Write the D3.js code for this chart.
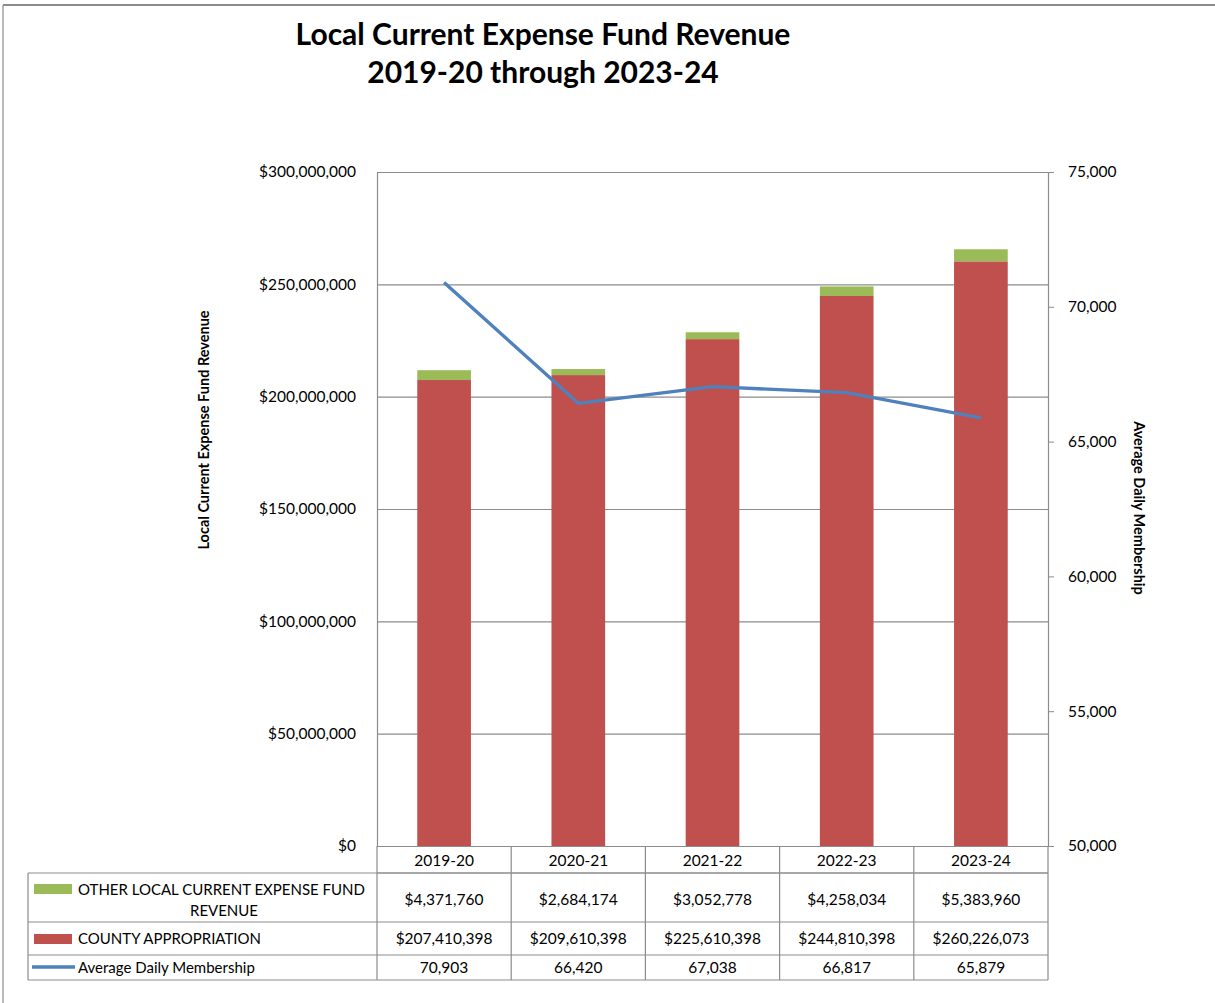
<!DOCTYPE html>
<head>
  <meta charset="utf-8">
  <title>Local Current Expense Fund Revenue</title>
<style>
html, body{
  margin: 0;
  padding: 0;
  background: #fff;
}
body{
  font-family: Lato, 'Open Sans', sans-serif;
}
.grid line { stroke: #8c8c8c; stroke-width: 1.2px; }
.grid path { display: none; }
.axis text { font-size: 15.5px; fill: #000; font-family: Lato, sans-serif; }
.tbl line { stroke: #8c8c8c; stroke-width: 1.2px; }
.tbl text { font-size: 15.5px; fill: #000; }
.tbl text.key { font-size: 15px; }
</style>
</head>
<body>
<svg width="1215" height="1003"></svg>
<script src="https://d3js.org/d3.v7.min.js"></script>
<script>
var years    = ["2019-20", "2020-21", "2021-22", "2022-23", "2023-24"];
var county   = [207410398, 209610398, 225610398, 244810398, 260226073];
var other    = [4371760, 2684174, 3052778, 4258034, 5383960];
var adm      = [70903, 66420, 67038, 66817, 65879];
var leftTicks  = [0, 50000000, 100000000, 150000000, 200000000, 250000000, 300000000];
var rightTicks = [50000, 55000, 60000, 65000, 70000, 75000];

var svg = d3.select("svg");
var plotL = 377, plotR = 1048, plotT = 172, plotB = 846;

var x = d3.scaleBand().domain(years).range([plotL, plotR]);
var y = d3.scaleLinear().domain([0, 300000000]).range([plotB, plotT]);
var y2 = d3.scaleLinear().domain([50000, 75000]).range([plotB, plotT]);

var money = d3.format("$,");
var comma = d3.format(",");

// frame
svg.append("line").attr("x1", 3).attr("x2", 1215).attr("y1", 5).attr("y2", 5)
  .attr("stroke", "#8c8c8c").attr("stroke-width", 2);
svg.append("line").attr("x1", 3).attr("x2", 3).attr("y1", 5).attr("y2", 1003)
  .attr("stroke", "#8c8c8c").attr("stroke-width", 1.2);

// title
svg.append("text").attr("x", 543).attr("y", 45).attr("text-anchor", "middle")
  .style("font-size", "30px").style("font-weight", "bold").text("Local Current Expense Fund Revenue");
svg.append("text").attr("x", 543).attr("y", 83).attr("text-anchor", "middle")
  .style("font-size", "30px").style("font-weight", "bold").text("2019-20 through 2023-24");

// gridlines
svg.append("g").attr("class", "grid")
  .attr("transform", "translate(" + plotL + ",0)")
  .call(d3.axisRight(y).tickValues(leftTicks).tickSize(plotR - plotL).tickFormat(""));

// left axis labels
svg.append("g").attr("class", "axis")
  .attr("transform", "translate(" + plotL + ",0)")
  .call(d3.axisLeft(y).tickValues(leftTicks).tickSize(0).tickPadding(21).tickFormat(money))
  .call(function(g) { g.select(".domain").attr("stroke", "#8c8c8c").attr("stroke-width", 1.2); });

// right axis
svg.append("g").attr("class", "axis")
  .attr("transform", "translate(" + plotR + ",0)")
  .call(d3.axisRight(y2).tickValues(rightTicks).tickSize(6).tickPadding(14).tickFormat(comma))
  .call(function(g) {
    g.select(".domain").attr("stroke", "#8c8c8c").attr("stroke-width", 1.2);
    g.selectAll(".tick line").attr("stroke", "#8c8c8c");
  });

// axis titles
svg.append("text").attr("transform", "translate(209,430) rotate(-90)")
  .attr("text-anchor", "middle").style("font-size", "14.5px").style("font-weight", "bold")
  .text("Local Current Expense Fund Revenue");
svg.append("text").attr("transform", "translate(1134,508) rotate(90)")
  .attr("text-anchor", "middle").style("font-size", "14.5px").style("font-weight", "bold")
  .text("Average Daily Membership");

// bars
var bw = x.bandwidth() * 0.4;
svg.selectAll(".county").data(years).enter().append("rect")
  .attr("x", function(d) { return x(d) + (x.bandwidth() - bw) / 2; })
  .attr("width", bw)
  .attr("y", function(d, i) { return y(county[i]); })
  .attr("height", function(d, i) { return plotB - y(county[i]); })
  .attr("fill", "#c0504d");
svg.selectAll(".other").data(years).enter().append("rect")
  .attr("x", function(d) { return x(d) + (x.bandwidth() - bw) / 2; })
  .attr("width", bw)
  .attr("y", function(d, i) { return y(county[i] + other[i]); })
  .attr("height", function(d, i) { return y(county[i]) - y(county[i] + other[i]); })
  .attr("fill", "#9bbb59");

// line
var line = d3.line()
  .x(function(d, i) { return x(years[i]) + x.bandwidth() / 2; })
  .y(function(d) { return y2(d); });
svg.append("path").datum(adm)
  .attr("d", line).attr("fill", "none")
  .attr("stroke", "#4f81bd").attr("stroke-width", 3.4).attr("stroke-linejoin", "round");

// data table
var tbl = svg.append("g").attr("class", "tbl");
var tLeft = 28;
var rows = [873, 922, 955, 980]; // row boundaries below the category row

// horizontal lines
tbl.append("line").attr("x1", plotL).attr("x2", plotR).attr("y1", plotB + 27).attr("y2", plotB + 27);
rows.forEach(function(r) {
  tbl.append("line").attr("x1", tLeft).attr("x2", plotR).attr("y1", r).attr("y2", r);
});
// vertical lines
years.concat(["end"]).forEach(function(d, i) {
  var xx = i < years.length ? x(d) : plotR;
  tbl.append("line").attr("x1", xx).attr("x2", xx).attr("y1", plotB).attr("y2", rows[3]);
});
tbl.append("line").attr("x1", tLeft).attr("x2", tLeft).attr("y1", rows[0]).attr("y2", rows[3]);

// category labels
tbl.selectAll(".cat").data(years).enter().append("text")
  .attr("x", function(d) { return x(d) + x.bandwidth() / 2; })
  .attr("y", 866).attr("text-anchor", "middle").text(function(d) { return d; });

var rowData = [
  { vals: other.map(money), cy: 905 },
  { vals: county.map(money), cy: 944 },
  { vals: adm.map(comma), cy: 973 }
];
rowData.forEach(function(r) {
  tbl.selectAll(null).data(r.vals).enter().append("text")
    .attr("x", function(d, i) { return x(years[i]) + x.bandwidth() / 2; })
    .attr("y", r.cy).attr("text-anchor", "middle").text(function(d) { return d; });
});

// legend keys and names
tbl.append("rect").attr("x", 34).attr("y", 884).attr("width", 38).attr("height", 10).attr("fill", "#9bbb59");
tbl.append("text").attr("class", "key").attr("x", 78).attr("y", 895).text("OTHER LOCAL CURRENT EXPENSE FUND");
tbl.append("text").attr("class", "key").attr("x", 224).attr("y", 916).attr("text-anchor", "middle").text("REVENUE");
tbl.append("rect").attr("x", 34).attr("y", 934).attr("width", 38).attr("height", 10).attr("fill", "#c0504d");
tbl.append("text").attr("class", "key").attr("x", 78).attr("y", 944).text("COUNTY APPROPRIATION");
tbl.append("line").attr("x1", 32).attr("x2", 75).attr("y1", 967).attr("y2", 967)
  .style("stroke", "#4f81bd").style("stroke-width", 3.4);
tbl.append("text").attr("class", "key").attr("x", 78).attr("y", 973).text("Average Daily Membership");
</script>
</body>
